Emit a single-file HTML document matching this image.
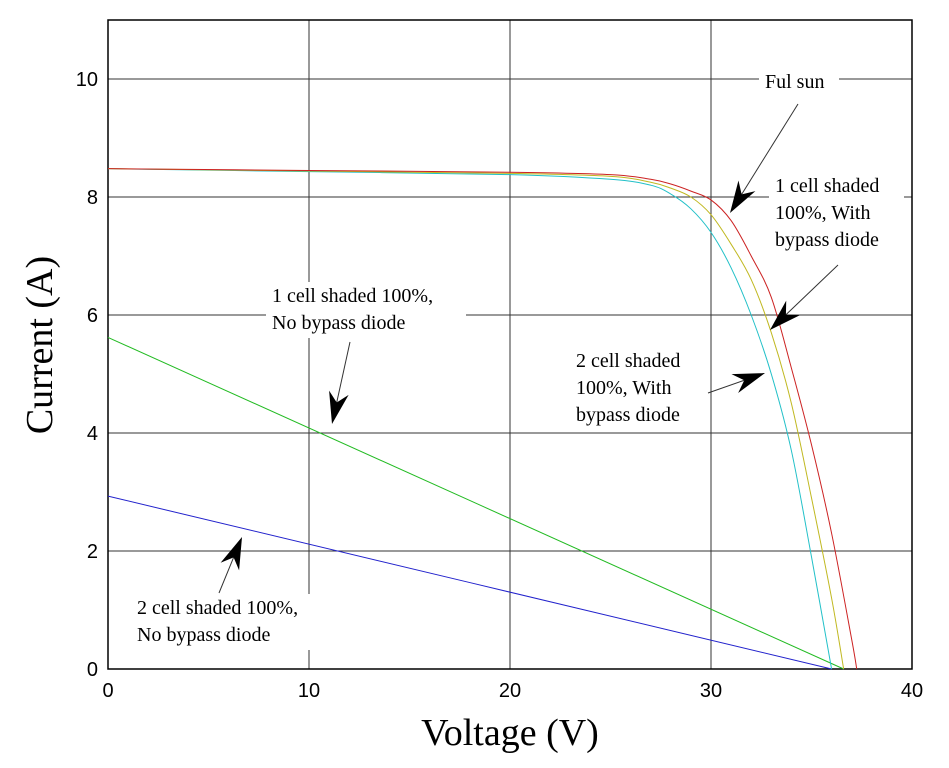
<!DOCTYPE html>
<html><head><meta charset="utf-8"><style>
html,body{margin:0;padding:0;background:#fff;}
svg{display:block;}
.t{font-family:"Liberation Sans",sans-serif;font-size:20px;fill:#000;}
.a{font-family:"Liberation Serif",serif;font-size:20px;fill:#000;}
.ti{font-family:"Liberation Serif",serif;font-size:38px;fill:#000;}
</style></head><body>
<svg id="c" width="949" height="768"></svg>
<script>
const xTicks=[0,10,20,30,40];
const yTicks=[0,2,4,6,8,10];
const redV=[0,10,20,25,27,28,29,30,31,32,33,34,35,36,37,37.25];
const redI=[8.48,8.45,8.42,8.38,8.3,8.22,8.1,7.95,7.6,7.0,6.3,5.1,3.8,2.3,0.5,0];
const yelV=[0,10,20,25,27,28,29,30,31,32,33,34,35,36,36.6];
const yelI=[8.48,8.44,8.4,8.35,8.25,8.15,8.0,7.7,7.2,6.6,5.7,4.5,2.9,1.2,0];
const cyaV=[0,10,20,25,27,28,29,30,31,32,33,34,35,36];
const cyaI=[8.48,8.43,8.38,8.3,8.2,8.05,7.8,7.4,6.8,6.0,5.0,3.7,1.9,0];
const grnV=[0,36.6];
const grnI=[5.62,0];
const bluV=[0,36.0];
const bluI=[2.93,0];

const NS="http://www.w3.org/2000/svg";
const svg=document.getElementById('c');
const X0=108,X1=912,Y0=669,Ytop=20;
const sx=v=>X0+(v-0)/(40-0)*(X1-X0);
const sy=i=>Y0-(i-0)/(11-0)*(Y0-Ytop);
function mk(tag,attrs,parent){const e=document.createElementNS(NS,tag);for(const k in attrs)e.setAttribute(k,attrs[k]);(parent||svg).appendChild(e);return e;}

xTicks.forEach(v=>{
  const l=mk('line',{x1:sx(v),x2:sx(v),y1:Ytop,y2:Y0,stroke:'#333','stroke-width':1});
  
  
  const t=mk('text',{x:sx(v),y:Y0+28,'text-anchor':'middle',class:'t'});t.textContent=v;
  
  
});
yTicks.forEach(v=>{
  const l=mk('line',{x1:X0,x2:X1,y1:sy(v),y2:sy(v),stroke:'#333','stroke-width':1});
  
  
  const t=mk('text',{x:X0-10,y:sy(v)+7,'text-anchor':'end',class:'t'});t.textContent=v;
  
  
});
const fr=mk('rect',{x:X0,y:Ytop,width:X1-X0,height:Y0-Ytop,fill:'none',stroke:'#000','stroke-width':1.5});



function series(V,I,col,name){
  const P=V.map((v,k)=>[sx(v),sy(I[k])]);
  let d='M'+P[0][0].toFixed(2)+','+P[0][1].toFixed(2);
  for(let k=0;k<P.length-1;k++){
    const p0=P[k-1]||P[k],p1=P[k],p2=P[k+1],p3=P[k+2]||P[k+1];
    const c1=[p1[0]+(p2[0]-p0[0])/6,p1[1]+(p2[1]-p0[1])/6];
    const c2=[p2[0]-(p3[0]-p1[0])/6,p2[1]-(p3[1]-p1[1])/6];
    d+='C'+c1.map(n=>n.toFixed(2)).join(',')+' '+c2.map(n=>n.toFixed(2)).join(',')+' '+p2.map(n=>n.toFixed(2)).join(',');
  }
  const p=mk('path',{d:d,fill:'none',stroke:col,'stroke-width':1,'stroke-linejoin':'round'});
  
  
}
series(grnV,grnI,'#22bb22','series-1-cell-no-bypass');
series(bluV,bluI,'#2222cc','series-2-cell-no-bypass');
series(cyaV,cyaI,'#22c0c8','series-2-cell-bypass');
series(yelV,yelI,'#c0b820','series-1-cell-bypass');
series(redV,redI,'#cc2222','series-full-sun');

function label(x,y,lines,w,name){
  const g=mk('g',{});
  
  
  mk('rect',{x:x-6,y:y-20,width:w,height:lines.length*27+2,fill:'#fff'},g);
  lines.forEach((s,k)=>{const t=mk('text',{x:x,y:y+k*27,class:'a'},g);t.textContent=s;});
}
function arrow(x1,y1,x2,y2,name){
  const g=mk('g',{});
  
  
  const dx=x2-x1,dy=y2-y1,L=Math.hypot(dx,dy),ux=dx/L,uy=dy/L,px=-uy,py=ux;
  const hl=32,hw=10,back=22;
  mk('line',{x1:x1,y1:y1,x2:x2-ux*back,y2:y2-uy*back,stroke:'#333','stroke-width':1},g);
  const pts=[[x2,y2],[x2-ux*hl+px*hw,y2-uy*hl+py*hw],[x2-ux*back,y2-uy*back],[x2-ux*hl-px*hw,y2-uy*hl-py*hw]];
  mk('polygon',{points:pts.map(p=>p.join(',')).join(' '),fill:'#000'},g);
}
label(765,88,['Ful sun'],80,'label-full-sun');
label(775,192,['1 cell shaded','100%, With','bypass diode'],135,'label-1-cell-bypass');
label(576,367,['2 cell shaded','100%, With','bypass diode'],132,'label-2-cell-bypass');
label(272,302,['1 cell shaded 100%,','No bypass diode'],200,'label-1-cell-no-bypass');
label(137,614,['2 cell shaded 100%,','No bypass diode'],200,'label-2-cell-no-bypass');
arrow(798,104,730,213,'arrow-full-sun');
arrow(838,265,770,330,'arrow-1-cell-bypass');
arrow(708,393,765,373,'arrow-2-cell-bypass');
arrow(350,342,332,424,'arrow-1-cell-no-bypass');
arrow(219,593,242,537,'arrow-2-cell-no-bypass');

const xt=mk('text',{x:510,y:745,'text-anchor':'middle',class:'ti'});xt.textContent='Voltage (V)';


const yt=mk('text',{x:52,y:345,'text-anchor':'middle',class:'ti',transform:'rotate(-90 52 345)'});yt.textContent='Current (A)';


</script>
</body></html>
